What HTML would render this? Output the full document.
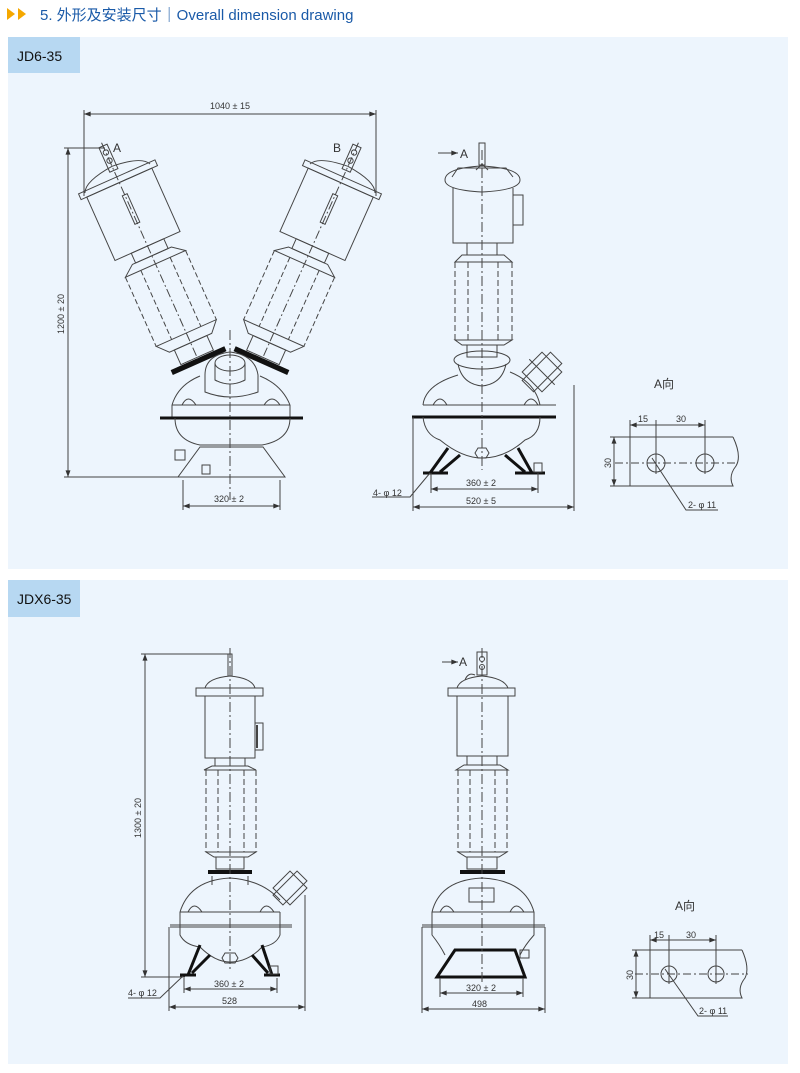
<!DOCTYPE html>
<html><head><meta charset="utf-8"><style>
html,body{margin:0;padding:0;background:#fff;width:800px;height:1073px;overflow:hidden}
svg{display:block}
text{font-family:"Liberation Sans","Noto Sans CJK SC",sans-serif;fill:#333}
</style></head><body>
<svg width="800" height="1073" viewBox="0 0 800 1073" xmlns="http://www.w3.org/2000/svg">
<defs>
<marker id="ar" viewBox="0 0 8 6" refX="8" refY="3" markerWidth="7" markerHeight="5" orient="auto-start-reverse"><path d="M0,0 L8,3 L0,6 z" fill="#333"/></marker>
<g id="unit" fill="none" stroke="#444" stroke-width="1.1">
 <rect x="-5" y="0" width="10" height="30"/><circle cx="0" cy="8" r="3"/><circle cx="0" cy="18" r="3"/>
 <path d="M-40,40 Q-35,28 0,25 Q35,28 40,40"/>
 <rect x="-47" y="38" width="94" height="7"/>
 <rect x="-40" y="45" width="80" height="78"/>
 <rect x="-3" y="60" width="6" height="35"/>
 <rect x="-20" y="123" width="40" height="12"/>
 <path d="M-24,135 L24,135 L37,145 L-37,145 z"/>
 <g stroke-dasharray="6,3"><path d="M-37,145 L-37,230 M37,145 L37,230 M-18,145 L-18,230 M18,145 L18,230"/></g>
 <path d="M-37,230 L37,230 L26,242 L-26,242 z"/>
 <rect x="-20" y="242" width="40" height="18"/>
 <line x1="-33" y1="264" x2="33" y2="264" stroke="#111" stroke-width="6"/>
 <line x1="0" y1="-4" x2="0" y2="262" stroke-dasharray="10,3,2,3"/>
</g>
</defs>
<!-- header -->
<polygon points="7,8 15,14 7,20" fill="#f5a800"/><polygon points="18,8 26,14 18,20" fill="#f5a800"/>
<text x="40" y="20" font-size="15" style="fill:#1a5aa8">5. 外形及安装尺寸｜Overall dimension drawing</text>
<!-- panels -->
<rect x="8" y="37" width="780" height="532" fill="#edf5fd"/>
<rect x="8" y="37" width="72" height="36" fill="#b7d8f2"/>
<text x="17" y="61" font-size="14" style="fill:#111">JD6-35</text>
<rect x="8" y="580" width="780" height="484" fill="#edf5fd"/>
<rect x="8" y="580" width="72" height="37" fill="#b7d8f2"/>
<text x="17" y="604" font-size="14" style="fill:#111">JDX6-35</text>

<g fill="none" stroke="#444" stroke-width="1">
<!-- ===== Drawing 1 ===== -->
<line x1="84" y1="114" x2="376" y2="114" marker-start="url(#ar)" marker-end="url(#ar)"/>
<line x1="84" y1="110" x2="84" y2="196"/><line x1="376" y1="110" x2="376" y2="196"/>
<line x1="68" y1="148" x2="68" y2="477" marker-start="url(#ar)" marker-end="url(#ar)"/>
<line x1="64" y1="148" x2="105" y2="148"/><line x1="64" y1="477" x2="182" y2="477"/>
<use href="#unit" transform="translate(103,146) rotate(-24) scale(0.89)"/>
<use href="#unit" transform="translate(357,146) rotate(24) scale(0.89)"/>
<path d="M205,375 Q205,355 230,352 Q255,355 258,375 L258,392 Q230,402 205,392 z"/>
<ellipse cx="230" cy="363" rx="15" ry="8"/><path d="M215,363 L215,380 Q230,388 245,380 L245,363"/>
<path d="M172,405 Q178,385 200,376 M290,405 Q282,385 260,376"/>
<path d="M172,405 L290,405 M172,405 L172,418 M290,405 L290,418"/>
<path d="M182,405 Q188,393 196,405 M264,405 Q272,393 280,405"/>
<line x1="160" y1="418" x2="303" y2="418" stroke="#111" stroke-width="3"/>
<path d="M175,418 Q175,440 200,445 L262,445 Q290,440 290,418"/>
<path d="M200,447 L263,447 L285,477 L178,477 z"/>
<rect x="175" y="450" width="10" height="10"/><rect x="202" y="465" width="8" height="9"/>
<line x1="230" y1="330" x2="230" y2="500" stroke-dasharray="10,3,2,3"/>
<line x1="183" y1="480" x2="183" y2="510"/><line x1="280" y1="480" x2="280" y2="510"/>
<line x1="183" y1="506" x2="280" y2="506" marker-start="url(#ar)" marker-end="url(#ar)"/>

<!-- ===== Drawing 2 ===== -->
<line x1="438" y1="153" x2="458" y2="153" marker-end="url(#ar)"/>
<rect x="479" y="143" width="6" height="22"/><path d="M476,170 L482,164 L488,170"/>
<path d="M445,180 Q445,168 482,166 Q520,168 520,180 Q520,190 482,192 Q445,190 445,180 z"/>
<path d="M452,177 L458,168 L506,168 L513,177"/>
<path d="M453,188 L453,243 L513,243 L513,188"/>
<rect x="513" y="195" width="10" height="30"/>
<rect x="467" y="243" width="30" height="12"/>
<path d="M462,255 L504,255 L512,262 L455,262 z"/>
<g stroke-dasharray="6,3"><path d="M455,262 L455,340 M512,262 L512,340 M468,262 L468,340 M498,262 L498,340"/></g>
<path d="M455,340 L512,340 L504,345 L462,345 z"/>
<rect x="467" y="345" width="30" height="12"/>
<ellipse cx="482" cy="360" rx="28" ry="9"/>
<path d="M458,364 Q462,384 482,386 Q502,384 506,364"/>
<path d="M423,405 Q425,385 458,375 M540,405 Q535,382 510,372"/>
<path d="M423,405 L556,405"/><path d="M433,405 Q440,393 447,405 M524,405 Q531,393 538,405"/>
<line x1="412" y1="417" x2="556" y2="417" stroke="#111" stroke-width="3"/>
<path d="M423,417 Q425,435 440,440 Q462,458 482,458 Q505,458 525,440 Q540,435 540,417"/>
<path d="M478,448 L486,448 L489,453 L486,458 L478,458 L475,453 z"/>
<path d="M448,448 L430,473 M460,455 L440,472 M518,448 L532,473 M505,455 L525,472" stroke="#111" stroke-width="3"/>
<line x1="423" y1="473" x2="448" y2="473" stroke="#111" stroke-width="3"/>
<line x1="515" y1="473" x2="545" y2="473" stroke="#111" stroke-width="3"/>
<rect x="534" y="463" width="8" height="9"/>
<g transform="translate(542,372) rotate(45)"><rect x="-14" y="-14" width="28" height="28"/><rect x="-8" y="-20" width="16" height="40"/><line x1="-18" y1="0" x2="18" y2="0"/></g>
<line x1="482" y1="150" x2="482" y2="470" stroke-dasharray="10,3,2,3"/>
<line x1="431" y1="473" x2="431" y2="493"/><line x1="538" y1="473" x2="538" y2="493"/>
<line x1="431" y1="489" x2="538" y2="489" marker-start="url(#ar)" marker-end="url(#ar)"/>
<line x1="413" y1="417" x2="413" y2="511"/><line x1="574" y1="385" x2="574" y2="511"/>
<line x1="413" y1="507" x2="574" y2="507" marker-start="url(#ar)" marker-end="url(#ar)"/>
<path d="M372,497 L410,497 L430,473"/>

<!-- A view 1 -->
<path d="M733,437 L630,437 L630,486 L733,486 Q728,476 736,466 Q742,456 733,437"/>
<circle cx="656" cy="463" r="9"/><circle cx="705" cy="463" r="9"/>
<line x1="615" y1="463" x2="738" y2="463" stroke-dasharray="8,3,2,3"/>
<line x1="656" y1="420" x2="656" y2="474"/><line x1="705" y1="420" x2="705" y2="474"/>
<line x1="630" y1="420" x2="630" y2="437"/>
<line x1="630" y1="425" x2="705" y2="425" marker-start="url(#ar)" marker-end="url(#ar)"/>
<line x1="610" y1="437" x2="630" y2="437"/><line x1="610" y1="486" x2="630" y2="486"/>
<line x1="614" y1="437" x2="614" y2="486" marker-start="url(#ar)" marker-end="url(#ar)"/>
<path d="M652,458 L686,510 L718,510"/>

<!-- ===== Drawing 3 ===== -->
<line x1="145" y1="654" x2="145" y2="977" marker-start="url(#ar)" marker-end="url(#ar)"/>
<line x1="141" y1="654" x2="230" y2="654"/><line x1="141" y1="977" x2="185" y2="977"/>
<rect x="228" y="654" width="4" height="22"/>
<path d="M205,688 Q208,678 230,676 Q252,678 255,688"/>
<rect x="196" y="688" width="67" height="8"/>
<rect x="205" y="696" width="50" height="62"/>
<rect x="255" y="723" width="8" height="27"/><line x1="257" y1="725" x2="257" y2="748" stroke-width="2"/>
<rect x="215" y="758" width="30" height="8"/>
<path d="M212,766 L248,766 L256,770 L204,770 z"/>
<g stroke-dasharray="6,3"><path d="M206,770 L206,852 M256,770 L256,852 M218,770 L218,852 M244,770 L244,852"/></g>
<path d="M206,852 L256,852 L248,857 L214,857 z"/>
<rect x="216" y="857" width="28" height="12"/>
<line x1="208" y1="872" x2="252" y2="872" stroke="#111" stroke-width="4"/>
<path d="M212,876 L212,885 M248,876 L248,885"/>
<path d="M180,912 Q190,880 230,878 Q262,880 280,900 M180,912 L280,912"/>
<path d="M188,912 Q194,900 202,912 M260,912 Q266,900 274,912"/>
<line x1="170" y1="927" x2="292" y2="927"/><line x1="170" y1="925" x2="292" y2="925"/>
<path d="M180,912 L180,935 Q185,945 200,947 Q215,962 230,962 Q248,962 262,947 Q276,945 280,935 L280,912"/>
<path d="M225,953 L235,953 L238,958 L235,963 L225,963 L222,958 z"/>
<path d="M200,945 L188,975 M210,955 L192,973 M262,945 L272,975 M252,955 L268,973" stroke="#111" stroke-width="3"/>
<line x1="180" y1="975" x2="196" y2="975" stroke="#111" stroke-width="3"/>
<line x1="264" y1="975" x2="280" y2="975" stroke="#111" stroke-width="3"/>
<rect x="270" y="966" width="8" height="8"/>
<g transform="translate(290,888) rotate(45)"><rect x="-12" y="-12" width="24" height="24"/><rect x="-7" y="-17" width="14" height="34"/></g>
<line x1="230" y1="648" x2="230" y2="970" stroke-dasharray="10,3,2,3"/>
<line x1="184" y1="978" x2="184" y2="993"/><line x1="277" y1="978" x2="277" y2="993"/>
<line x1="184" y1="989" x2="277" y2="989" marker-start="url(#ar)" marker-end="url(#ar)"/>
<line x1="169" y1="927" x2="169" y2="1011"/><line x1="305" y1="895" x2="305" y2="1011"/>
<line x1="169" y1="1007" x2="305" y2="1007" marker-start="url(#ar)" marker-end="url(#ar)"/>
<path d="M128,998 L160,998 L183,976"/>

<!-- ===== Drawing 4 ===== -->
<line x1="442" y1="662" x2="458" y2="662" marker-end="url(#ar)"/>
<rect x="477" y="652" width="10" height="23"/><circle cx="482" cy="659" r="2.5"/><circle cx="482" cy="667" r="2.5"/>
<path d="M457,688 Q460,678 482,676 Q504,678 508,688"/><path d="M465,680 Q468,672 475,675"/>
<rect x="448" y="688" width="67" height="8"/>
<rect x="457" y="696" width="51" height="60"/>
<rect x="467" y="756" width="30" height="9"/>
<path d="M464,765 L500,765 L508,770 L456,770 z"/>
<g stroke-dasharray="6,3"><path d="M458,770 L458,852 M507,770 L507,852 M470,770 L470,852 M495,770 L495,852"/></g>
<path d="M458,852 L507,852 L499,857 L466,857 z"/>
<rect x="467" y="857" width="30" height="12"/>
<line x1="460" y1="872" x2="505" y2="872" stroke="#111" stroke-width="4"/>
<path d="M432,912 Q440,880 482,878 Q525,880 534,912 M432,912 L534,912"/>
<rect x="469" y="888" width="25" height="14"/>
<path d="M440,912 Q446,900 454,912 M510,912 Q516,900 524,912"/>
<line x1="422" y1="927" x2="545" y2="927"/><line x1="422" y1="925" x2="545" y2="925"/>
<path d="M432,912 L432,935 Q440,945 445,955 M534,912 L534,935 Q525,945 520,955"/>
<path d="M455,950 L515,950 L525,977 L437,977 z" stroke="#111" stroke-width="3"/>
<rect x="520" y="950" width="9" height="8"/>
<line x1="482" y1="648" x2="482" y2="985" stroke-dasharray="10,3,2,3"/>
<line x1="440" y1="978" x2="440" y2="997"/><line x1="523" y1="978" x2="523" y2="997"/>
<line x1="440" y1="993" x2="523" y2="993" marker-start="url(#ar)" marker-end="url(#ar)"/>
<line x1="422" y1="927" x2="422" y2="1013"/><line x1="545" y1="927" x2="545" y2="1013"/>
<line x1="422" y1="1009" x2="545" y2="1009" marker-start="url(#ar)" marker-end="url(#ar)"/>

<!-- A view 2 -->
<path d="M742,950 L650,950 L650,998 L742,998 Q737,988 745,978 Q750,968 742,950"/>
<circle cx="669" cy="974" r="8"/><circle cx="716" cy="974" r="8"/>
<line x1="635" y1="974" x2="748" y2="974" stroke-dasharray="8,3,2,3"/>
<line x1="669" y1="935" x2="669" y2="984"/><line x1="716" y1="935" x2="716" y2="984"/>
<line x1="650" y1="935" x2="650" y2="950"/>
<line x1="650" y1="940" x2="716" y2="940" marker-start="url(#ar)" marker-end="url(#ar)"/>
<line x1="632" y1="950" x2="650" y2="950"/><line x1="632" y1="998" x2="650" y2="998"/>
<line x1="636" y1="950" x2="636" y2="998" marker-start="url(#ar)" marker-end="url(#ar)"/>
<path d="M665,969 L698,1016 L728,1016"/>
</g>

<!-- labels -->
<g font-size="9">
<text x="210" y="109">1040 ± 15</text>
<text x="0" y="0" transform="translate(64,334) rotate(-90)">1200 ± 20</text>
<text x="214" y="502">320 ± 2</text>
<text x="466" y="486">360 ± 2</text>
<text x="466" y="504">520 ± 5</text>
<text x="373" y="496">4- φ 12</text>
<text x="638" y="422">15</text><text x="676" y="422">30</text>
<text x="0" y="0" transform="translate(611,468) rotate(-90)">30</text>
<text x="688" y="508">2- φ 11</text>
<text x="0" y="0" transform="translate(141,838) rotate(-90)">1300 ± 20</text>
<text x="214" y="987">360 ± 2</text>
<text x="222" y="1004">528</text>
<text x="128" y="996">4- φ 12</text>
<text x="466" y="991">320 ± 2</text>
<text x="472" y="1007">498</text>
<text x="654" y="938">15</text><text x="686" y="938">30</text>
<text x="0" y="0" transform="translate(633,980) rotate(-90)">30</text>
<text x="699" y="1014">2- φ 11</text>
</g>
<g font-size="12">
<text x="113" y="152">A</text><text x="333" y="152">B</text>
<text x="460" y="158">A</text><text x="459" y="666">A</text>
<text x="654" y="388">A向</text><text x="675" y="910">A向</text>
</g>
</svg>
</body></html>
